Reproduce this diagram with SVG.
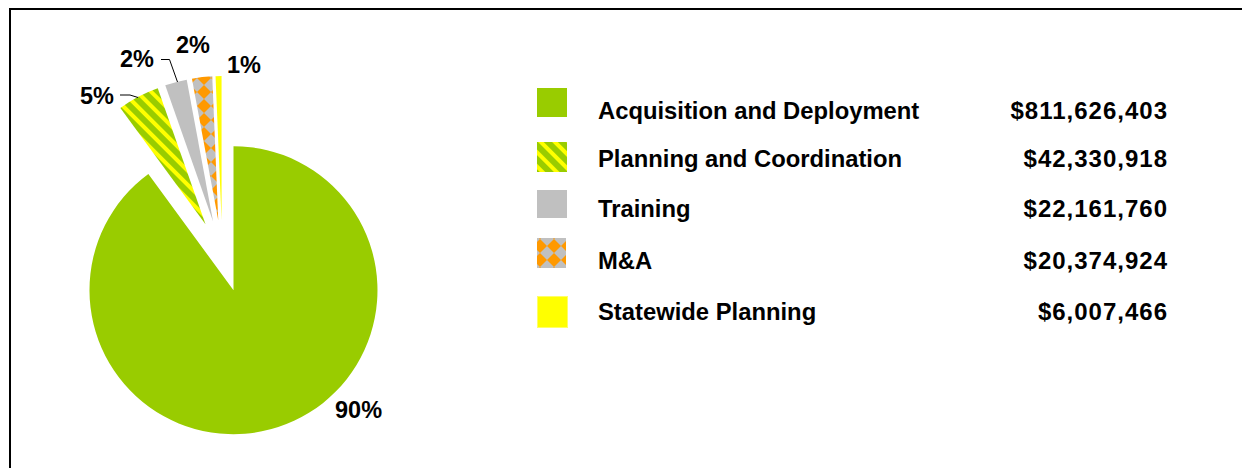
<svg xmlns="http://www.w3.org/2000/svg" width="1242" height="468" viewBox="0 0 1242 468">
<style>
text{font-family:"Liberation Sans",Arial,sans-serif;font-weight:bold;font-size:23.5px;fill:#000}
.lab{font-size:23.8px}
.val{text-anchor:end;font-size:24px;letter-spacing:1px}
.lead{fill:none;stroke:#000;stroke-width:1}
</style>
<defs>
<pattern id="stripe" patternUnits="userSpaceOnUse" width="10" height="10" patternTransform="rotate(-45)">
<rect width="10" height="10" fill="#99CC00"/>
<rect width="4" height="10" fill="#FFFF00"/>
</pattern>
<pattern id="diam" patternUnits="userSpaceOnUse" width="14" height="14" x="1" y="1">
<rect width="14" height="14" fill="#C0C0C0"/>
<polygon points="7,0 14,7 7,14 0,7" fill="#FF9900"/>
</pattern>
</defs>
<rect width="1242" height="468" fill="#fff"/>
<path d="M10,468 L10,9 L1242,9" fill="none" stroke="#000" stroke-width="2"/>
<g id="pie">
<path id="slice-acq" d="M233.5,290.2 L233.5,146.2 A144,144 0 1 1 148.35,174.06 Z" fill="#99CC00"/>
<path id="slice-plan" d="M205.5,224.16 L120.35,108.02 A144,144 0 0 1 157.75,88.31 Z" fill="url(#stripe)"/>
<path id="slice-train" d="M213.02,221.22 L165.27,85.37 A144,144 0 0 1 186.71,79.64 Z" fill="#C0C0C0"/>
<path id="slice-ma" d="M218.25,220.23 L191.94,78.65 A144,144 0 0 1 212.23,76.36 Z" fill="url(#diam)"/>
<path id="slice-sw" d="M221.55,220.01 L215.53,76.14 A144,144 0 0 1 221.55,76.01 Z" fill="#FFFF00"/>
</g>
<g id="connectors">
<polyline class="lead" points="120,95 130,95 138,97.5"/>
<polyline class="lead" points="161,59.5 169.5,59.5 177.5,82"/>
</g>
<g id="pie-labels">
<text x="80" y="103.5">5%</text>
<text x="120" y="66.7">2%</text>
<text x="176" y="53.3">2%</text>
<text x="227" y="73.3">1%</text>
<text x="335" y="418.3">90%</text>
</g>
<g id="legend-acq">
<rect x="537" y="88" width="30" height="29" fill="#99CC00"/>
<text class="lab" x="598" y="119">Acquisition and Deployment</text>
<text class="val" x="1168" y="119">$811,626,403</text>
</g>
<g id="legend-plan">
<rect x="537" y="142" width="30" height="30" fill="url(#stripe)"/>
<text class="lab" x="598" y="167">Planning and Coordination</text>
<text class="val" x="1168" y="167">$42,330,918</text>
</g>
<g id="legend-train">
<rect x="537" y="190" width="30" height="28" fill="#C0C0C0"/>
<text class="lab" x="598" y="217">Training</text>
<text class="val" x="1168" y="217">$22,161,760</text>
</g>
<g id="legend-ma">
<rect x="537" y="238" width="29" height="30" fill="url(#diam)"/>
<text class="lab" x="598" y="269">M&amp;A</text>
<text class="val" x="1168" y="269">$20,374,924</text>
</g>
<g id="legend-sw">
<rect x="537.5" y="296.5" width="30" height="31" fill="#FFFF00" stroke="#FFFF66" stroke-width="1"/>
<text class="lab" x="598" y="320">Statewide Planning</text>
<text class="val" x="1168" y="320">$6,007,466</text>
</g>
</svg>
